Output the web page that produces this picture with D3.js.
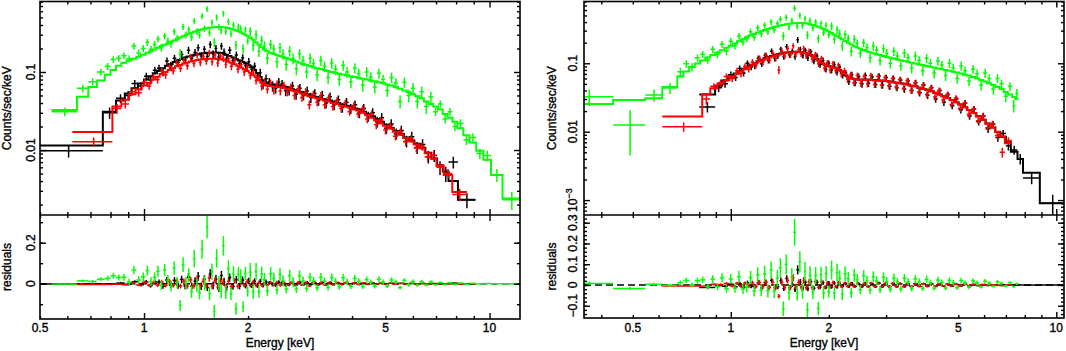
<!DOCTYPE html>
<html>
<head>
<meta charset="utf-8">
<script src="https://cdn.jsdelivr.net/npm/d3@7"></script>
<style>
    body { margin: 0; background: #fff; }
    svg text { font-family: "Liberation Sans", Arial, sans-serif; font-size: 12px; fill: #000; stroke: #000; stroke-width: 0.35px; }
</style>
</head>
<body>
<svg id="canvas"></svg>
<script>
/////////////////////////////////////////////////////////////////////
// Data (keV, counts/sec/keV)
// each dataset: bin edges, measured rate, 1-sigma error, folded model

// ---- left spectrum ----
var leftBlackEdges = [0.45, 0.76, 0.83, 0.88, 0.92, 0.96, 1.00, 1.03, 1.06, 1.09, 1.12, 1.15, 1.18, 1.21, 1.24, 1.27, 1.30, 1.33, 1.36, 1.39, 1.42, 1.45, 1.48, 1.51, 1.54, 1.57, 1.60, 1.63, 1.66, 1.69, 1.72, 1.75, 1.79, 1.83, 1.87, 1.91, 1.95, 1.99, 2.03, 2.07, 2.11, 2.15, 2.19, 2.23, 2.28, 2.33, 2.38, 2.43, 2.48, 2.54, 2.60, 2.66, 2.72, 2.79, 2.86, 2.93, 3.00, 3.08, 3.16, 3.24, 3.32, 3.41, 3.50, 3.60, 3.70, 3.80, 3.91, 4.02, 4.14, 4.26, 4.39, 4.52, 4.66, 4.80, 4.95, 5.11, 5.28, 5.46, 5.65, 5.85, 6.06, 6.28, 6.52, 6.78, 7.05, 7.33, 7.61, 8.10, 9.10];
var leftBlackRate = [0.0098, 0.030, 0.046, 0.050, 0.071, 0.066, 0.088, 0.079, 0.105, 0.112, 0.100, 0.138, 0.120, 0.150, 0.132, 0.168, 0.142, 0.190, 0.150, 0.178, 0.205, 0.160, 0.195, 0.158, 0.225, 0.170, 0.200, 0.155, 0.215, 0.180, 0.150, 0.190, 0.140, 0.165, 0.128, 0.152, 0.120, 0.135, 0.108, 0.118, 0.088, 0.098, 0.070, 0.082, 0.075, 0.066, 0.062, 0.074, 0.070, 0.058, 0.058, 0.066, 0.052, 0.062, 0.050, 0.057, 0.047, 0.053, 0.043, 0.050, 0.040, 0.048, 0.038, 0.044, 0.035, 0.041, 0.034, 0.038, 0.030, 0.034, 0.027, 0.030, 0.023, 0.026, 0.019, 0.0215, 0.0162, 0.0178, 0.0130, 0.0148, 0.0108, 0.0118, 0.0082, 0.0085, 0.0060, 0.0050, 0.0070, 0.0023];
var leftBlackErr = [0.0018, 0.005, 0.006, 0.007, 0.008, 0.008, 0.010, 0.010, 0.012, 0.012, 0.012, 0.015, 0.014, 0.016, 0.015, 0.018, 0.016, 0.020, 0.017, 0.019, 0.021, 0.018, 0.020, 0.018, 0.023, 0.019, 0.021, 0.018, 0.022, 0.020, 0.018, 0.020, 0.017, 0.018, 0.016, 0.017, 0.015, 0.016, 0.014, 0.014, 0.012, 0.012, 0.010, 0.011, 0.009, 0.010, 0.009, 0.010, 0.009, 0.009, 0.008, 0.009, 0.008, 0.008, 0.007, 0.008, 0.007, 0.007, 0.006, 0.007, 0.006, 0.0065, 0.0055, 0.006, 0.005, 0.0055, 0.005, 0.005, 0.0045, 0.0048, 0.004, 0.0042, 0.0036, 0.0038, 0.003, 0.0032, 0.0026, 0.0027, 0.0022, 0.0023, 0.0019, 0.0019, 0.0015, 0.0015, 0.0012, 0.0011, 0.0012, 0.0005];
var leftBlackModel = [0.0114, 0.031, 0.043, 0.053, 0.062, 0.071, 0.080, 0.088, 0.096, 0.104, 0.112, 0.120, 0.127, 0.134, 0.141, 0.147, 0.153, 0.158, 0.162, 0.166, 0.169, 0.172, 0.174, 0.176, 0.177, 0.178, 0.178, 0.177, 0.175, 0.171, 0.166, 0.160, 0.153, 0.146, 0.140, 0.134, 0.128, 0.122, 0.115, 0.106, 0.096, 0.086, 0.078, 0.073, 0.071, 0.069, 0.068, 0.067, 0.066, 0.064, 0.062, 0.060, 0.058, 0.056, 0.054, 0.052, 0.050, 0.048, 0.047, 0.045, 0.044, 0.043, 0.041, 0.040, 0.038, 0.037, 0.036, 0.034, 0.033, 0.031, 0.029, 0.027, 0.025, 0.023, 0.021, 0.0192, 0.0175, 0.0160, 0.0145, 0.0132, 0.0120, 0.0107, 0.0092, 0.0078, 0.0064, 0.0053, 0.0040, 0.0023];

var leftRedEdges = [0.62, 0.81, 0.86, 0.905, 0.945, 0.985, 1.02, 1.05, 1.08, 1.11, 1.14, 1.17, 1.20, 1.23, 1.26, 1.29, 1.32, 1.35, 1.38, 1.41, 1.44, 1.47, 1.50, 1.53, 1.56, 1.59, 1.62, 1.65, 1.68, 1.71, 1.74, 1.77, 1.81, 1.85, 1.89, 1.93, 1.97, 2.01, 2.05, 2.09, 2.13, 2.17, 2.21, 2.25, 2.30, 2.35, 2.40, 2.45, 2.51, 2.57, 2.63, 2.69, 2.76, 2.83, 2.90, 2.97, 3.05, 3.13, 3.21, 3.29, 3.38, 3.47, 3.57, 3.67, 3.77, 3.88, 3.99, 4.11, 4.23, 4.36, 4.49, 4.63, 4.77, 4.92, 5.08, 5.25, 5.43, 5.62, 5.82, 6.03, 6.25, 6.49, 6.75, 7.02, 7.37, 7.80, 8.60];
var leftRedRate = [0.0128, 0.034, 0.039, 0.056, 0.054, 0.074, 0.066, 0.086, 0.080, 0.102, 0.092, 0.118, 0.104, 0.130, 0.112, 0.140, 0.120, 0.155, 0.128, 0.165, 0.132, 0.158, 0.138, 0.175, 0.135, 0.165, 0.130, 0.160, 0.150, 0.125, 0.148, 0.118, 0.140, 0.108, 0.125, 0.100, 0.115, 0.090, 0.100, 0.078, 0.085, 0.066, 0.074, 0.060, 0.072, 0.058, 0.070, 0.057, 0.068, 0.055, 0.064, 0.050, 0.061, 0.047, 0.056, 0.038, 0.052, 0.041, 0.050, 0.038, 0.047, 0.036, 0.043, 0.034, 0.040, 0.031, 0.037, 0.029, 0.034, 0.025, 0.029, 0.021, 0.024, 0.018, 0.0205, 0.0150, 0.0172, 0.0128, 0.0140, 0.0106, 0.0112, 0.0082, 0.0086, 0.0060, 0.0050, 0.0027];
var leftRedErr = [0.0017, 0.005, 0.005, 0.006, 0.006, 0.008, 0.007, 0.009, 0.009, 0.011, 0.010, 0.012, 0.011, 0.013, 0.012, 0.014, 0.013, 0.015, 0.013, 0.016, 0.014, 0.016, 0.014, 0.017, 0.014, 0.016, 0.014, 0.016, 0.015, 0.013, 0.015, 0.013, 0.014, 0.012, 0.013, 0.011, 0.012, 0.010, 0.011, 0.009, 0.009, 0.008, 0.008, 0.007, 0.008, 0.007, 0.008, 0.007, 0.007, 0.006, 0.007, 0.006, 0.0065, 0.0055, 0.006, 0.005, 0.0055, 0.005, 0.0052, 0.0045, 0.005, 0.0042, 0.0045, 0.004, 0.0042, 0.0036, 0.0038, 0.0033, 0.0035, 0.003, 0.003, 0.0026, 0.0026, 0.0022, 0.0022, 0.0018, 0.0019, 0.0015, 0.0016, 0.0013, 0.0013, 0.001, 0.001, 0.0008, 0.0007, 0.0005];
var leftRedModel = [0.017, 0.036, 0.044, 0.052, 0.060, 0.067, 0.073, 0.080, 0.087, 0.094, 0.100, 0.106, 0.112, 0.118, 0.123, 0.128, 0.132, 0.136, 0.139, 0.142, 0.144, 0.146, 0.147, 0.148, 0.148, 0.148, 0.147, 0.146, 0.143, 0.140, 0.136, 0.131, 0.126, 0.120, 0.114, 0.108, 0.103, 0.098, 0.092, 0.086, 0.079, 0.073, 0.069, 0.067, 0.066, 0.065, 0.064, 0.064, 0.063, 0.061, 0.059, 0.057, 0.055, 0.053, 0.051, 0.049, 0.047, 0.046, 0.045, 0.043, 0.042, 0.040, 0.039, 0.037, 0.036, 0.035, 0.033, 0.032, 0.030, 0.028, 0.026, 0.024, 0.022, 0.0205, 0.0188, 0.0172, 0.0157, 0.0143, 0.0130, 0.0118, 0.0105, 0.0091, 0.0078, 0.0063, 0.0048, 0.0029];

var leftGreenEdges = [0.54, 0.64, 0.69, 0.73, 0.77, 0.80, 0.83, 0.86, 0.89, 0.92, 0.95, 0.98, 1.01, 1.035, 1.06, 1.085, 1.11, 1.135, 1.16, 1.185, 1.21, 1.235, 1.26, 1.285, 1.31, 1.335, 1.36, 1.385, 1.41, 1.435, 1.46, 1.485, 1.51, 1.535, 1.56, 1.585, 1.61, 1.635, 1.66, 1.685, 1.71, 1.74, 1.77, 1.80, 1.83, 1.86, 1.89, 1.92, 1.95, 1.98, 2.01, 2.05, 2.09, 2.13, 2.17, 2.21, 2.25, 2.30, 2.35, 2.40, 2.45, 2.50, 2.55, 2.61, 2.67, 2.73, 2.79, 2.85, 2.92, 2.99, 3.06, 3.13, 3.21, 3.29, 3.37, 3.45, 3.54, 3.63, 3.72, 3.82, 3.92, 4.02, 4.13, 4.24, 4.35, 4.47, 4.59, 4.72, 4.85, 4.99, 5.13, 5.28, 5.43, 5.59, 5.75, 5.92, 6.09, 6.27, 6.46, 6.66, 6.87, 7.09, 7.32, 7.56, 7.81, 8.07, 8.40, 8.75, 9.15, 9.60, 10.1, 10.9, 12.3];
var leftGreenRate = [0.031, 0.062, 0.075, 0.100, 0.118, 0.145, 0.150, 0.162, 0.148, 0.215, 0.175, 0.200, 0.240, 0.195, 0.225, 0.265, 0.205, 0.290, 0.250, 0.230, 0.330, 0.270, 0.170, 0.380, 0.300, 0.350, 0.280, 0.450, 0.330, 0.300, 0.520, 0.360, 0.640, 0.320, 0.430, 0.240, 0.500, 0.380, 0.340, 0.560, 0.330, 0.440, 0.310, 0.400, 0.220, 0.380, 0.360, 0.200, 0.350, 0.250, 0.330, 0.220, 0.300, 0.185, 0.255, 0.215, 0.150, 0.225, 0.195, 0.135, 0.205, 0.170, 0.125, 0.185, 0.150, 0.110, 0.170, 0.140, 0.100, 0.150, 0.128, 0.092, 0.140, 0.118, 0.085, 0.130, 0.108, 0.080, 0.122, 0.100, 0.075, 0.112, 0.095, 0.068, 0.100, 0.086, 0.064, 0.096, 0.080, 0.058, 0.085, 0.072, 0.042, 0.074, 0.050, 0.062, 0.042, 0.056, 0.036, 0.048, 0.031, 0.039, 0.025, 0.031, 0.020, 0.022, 0.0135, 0.0145, 0.0090, 0.0085, 0.0048, 0.0023];
var leftGreenErr = [0.004, 0.007, 0.008, 0.010, 0.012, 0.014, 0.015, 0.016, 0.016, 0.021, 0.019, 0.021, 0.024, 0.021, 0.024, 0.027, 0.023, 0.029, 0.026, 0.025, 0.032, 0.028, 0.027, 0.036, 0.031, 0.034, 0.030, 0.042, 0.033, 0.031, 0.046, 0.035, 0.055, 0.033, 0.040, 0.031, 0.045, 0.036, 0.033, 0.048, 0.033, 0.040, 0.031, 0.037, 0.029, 0.035, 0.033, 0.027, 0.032, 0.025, 0.045, 0.035, 0.042, 0.030, 0.037, 0.032, 0.025, 0.033, 0.030, 0.023, 0.031, 0.027, 0.021, 0.028, 0.024, 0.019, 0.026, 0.022, 0.017, 0.023, 0.020, 0.016, 0.021, 0.018, 0.015, 0.020, 0.017, 0.014, 0.018, 0.016, 0.013, 0.017, 0.015, 0.012, 0.015, 0.013, 0.011, 0.014, 0.012, 0.010, 0.013, 0.011, 0.008, 0.011, 0.009, 0.010, 0.008, 0.009, 0.007, 0.008, 0.0038, 0.0042, 0.0032, 0.0035, 0.0026, 0.0027, 0.0019, 0.0019, 0.0014, 0.0013, 0.0009, 0.0006];
var leftGreenModel = [0.0326, 0.048, 0.064, 0.078, 0.092, 0.106, 0.120, 0.131, 0.140, 0.148, 0.157, 0.166, 0.176, 0.185, 0.194, 0.204, 0.213, 0.223, 0.233, 0.243, 0.254, 0.265, 0.276, 0.287, 0.298, 0.309, 0.319, 0.328, 0.337, 0.345, 0.352, 0.358, 0.363, 0.368, 0.372, 0.375, 0.377, 0.378, 0.377, 0.375, 0.371, 0.366, 0.359, 0.351, 0.342, 0.333, 0.323, 0.312, 0.300, 0.288, 0.274, 0.258, 0.241, 0.224, 0.208, 0.195, 0.184, 0.176, 0.170, 0.165, 0.160, 0.156, 0.151, 0.146, 0.141, 0.136, 0.131, 0.127, 0.123, 0.119, 0.115, 0.112, 0.109, 0.106, 0.103, 0.100, 0.097, 0.095, 0.093, 0.091, 0.088, 0.086, 0.084, 0.082, 0.080, 0.078, 0.076, 0.074, 0.072, 0.069, 0.067, 0.064, 0.061, 0.058, 0.055, 0.052, 0.049, 0.046, 0.042, 0.039, 0.036, 0.033, 0.029, 0.026, 0.023, 0.019, 0.0155, 0.0125, 0.0098, 0.0075, 0.0048, 0.0024];

// ---- right spectrum ----
var rightBlackEdges = [0.80, 0.895, 0.94, 0.98, 1.02, 1.05, 1.08, 1.11, 1.14, 1.17, 1.20, 1.23, 1.26, 1.29, 1.32, 1.35, 1.38, 1.41, 1.44, 1.47, 1.50, 1.53, 1.56, 1.59, 1.62, 1.65, 1.68, 1.71, 1.74, 1.78, 1.82, 1.86, 1.90, 1.94, 1.98, 2.02, 2.06, 2.10, 2.14, 2.18, 2.23, 2.28, 2.33, 2.38, 2.44, 2.50, 2.56, 2.62, 2.68, 2.75, 2.82, 2.89, 2.96, 3.04, 3.12, 3.20, 3.28, 3.37, 3.46, 3.55, 3.65, 3.75, 3.86, 3.97, 4.08, 4.20, 4.32, 4.45, 4.58, 4.72, 4.86, 5.01, 5.17, 5.33, 5.50, 5.68, 5.87, 6.07, 6.28, 6.50, 6.73, 7.00, 7.25, 7.60, 7.90, 8.90, 10.6];
var rightBlackRate = [0.023, 0.044, 0.050, 0.068, 0.062, 0.084, 0.072, 0.100, 0.088, 0.092, 0.118, 0.098, 0.130, 0.110, 0.150, 0.118, 0.128, 0.160, 0.125, 0.175, 0.132, 0.150, 0.125, 0.220, 0.160, 0.130, 0.155, 0.120, 0.148, 0.108, 0.128, 0.095, 0.110, 0.082, 0.100, 0.080, 0.096, 0.074, 0.088, 0.068, 0.072, 0.054, 0.068, 0.052, 0.064, 0.050, 0.066, 0.051, 0.063, 0.049, 0.065, 0.048, 0.062, 0.046, 0.060, 0.044, 0.057, 0.042, 0.055, 0.040, 0.052, 0.037, 0.048, 0.034, 0.044, 0.030, 0.040, 0.027, 0.035, 0.024, 0.030, 0.021, 0.026, 0.017, 0.0215, 0.0140, 0.0170, 0.0110, 0.0128, 0.0082, 0.0094, 0.0062, 0.0054, 0.0040, 0.0021, 0.0009];
var rightBlackErr = [0.004, 0.006, 0.006, 0.008, 0.007, 0.009, 0.008, 0.010, 0.009, 0.010, 0.012, 0.010, 0.013, 0.011, 0.014, 0.012, 0.013, 0.015, 0.012, 0.016, 0.013, 0.014, 0.012, 0.022, 0.015, 0.013, 0.014, 0.012, 0.014, 0.011, 0.012, 0.010, 0.011, 0.009, 0.010, 0.009, 0.010, 0.008, 0.009, 0.008, 0.008, 0.006, 0.007, 0.006, 0.007, 0.006, 0.007, 0.006, 0.0065, 0.0055, 0.0065, 0.0055, 0.0062, 0.0052, 0.006, 0.005, 0.0057, 0.0048, 0.0055, 0.0045, 0.0052, 0.0042, 0.0048, 0.0039, 0.0044, 0.0035, 0.004, 0.0032, 0.0035, 0.0028, 0.003, 0.0025, 0.0027, 0.0021, 0.0023, 0.0017, 0.0019, 0.0014, 0.0015, 0.0011, 0.0012, 0.0009, 0.0008, 0.0007, 0.0004, 0.0003];
var rightBlackModel = [0.035, 0.047, 0.056, 0.064, 0.071, 0.077, 0.083, 0.089, 0.095, 0.101, 0.107, 0.112, 0.118, 0.123, 0.128, 0.132, 0.136, 0.139, 0.142, 0.144, 0.145, 0.146, 0.147, 0.147, 0.146, 0.145, 0.142, 0.138, 0.132, 0.124, 0.115, 0.106, 0.099, 0.094, 0.091, 0.089, 0.087, 0.084, 0.080, 0.073, 0.066, 0.062, 0.060, 0.059, 0.058, 0.058, 0.058, 0.058, 0.057, 0.057, 0.056, 0.056, 0.055, 0.054, 0.053, 0.052, 0.051, 0.050, 0.049, 0.047, 0.046, 0.044, 0.042, 0.041, 0.039, 0.037, 0.035, 0.033, 0.031, 0.029, 0.027, 0.025, 0.0228, 0.0208, 0.0188, 0.0168, 0.0150, 0.0132, 0.0115, 0.0099, 0.0084, 0.0070, 0.0051, 0.0040, 0.0025, 0.0009];

var rightRedEdges = [0.616, 0.817, 0.865, 0.91, 0.95, 0.99, 1.03, 1.06, 1.09, 1.12, 1.15, 1.18, 1.21, 1.24, 1.27, 1.30, 1.33, 1.36, 1.39, 1.42, 1.45, 1.48, 1.51, 1.54, 1.57, 1.60, 1.63, 1.66, 1.69, 1.72, 1.76, 1.80, 1.84, 1.88, 1.92, 1.96, 2.00, 2.04, 2.08, 2.12, 2.16, 2.21, 2.26, 2.31, 2.36, 2.42, 2.48, 2.54, 2.60, 2.66, 2.73, 2.80, 2.87, 2.94, 3.02, 3.10, 3.18, 3.26, 3.35, 3.44, 3.53, 3.63, 3.73, 3.84, 3.95, 4.06, 4.18, 4.30, 4.43, 4.56, 4.70, 4.84, 4.99, 5.15, 5.31, 5.48, 5.66, 5.85, 6.05, 6.26, 6.48, 6.70, 6.95, 7.30];
var rightRedRate = [0.0118, 0.030, 0.046, 0.052, 0.064, 0.060, 0.078, 0.070, 0.090, 0.082, 0.104, 0.094, 0.118, 0.104, 0.130, 0.110, 0.140, 0.118, 0.080, 0.150, 0.128, 0.165, 0.132, 0.180, 0.138, 0.158, 0.135, 0.165, 0.128, 0.150, 0.115, 0.135, 0.098, 0.118, 0.085, 0.102, 0.080, 0.098, 0.078, 0.094, 0.070, 0.078, 0.058, 0.068, 0.052, 0.066, 0.051, 0.064, 0.050, 0.066, 0.049, 0.064, 0.048, 0.062, 0.047, 0.060, 0.045, 0.058, 0.043, 0.056, 0.040, 0.052, 0.038, 0.048, 0.035, 0.044, 0.032, 0.040, 0.029, 0.035, 0.025, 0.031, 0.022, 0.0262, 0.0180, 0.0215, 0.0145, 0.0170, 0.0114, 0.0130, 0.0088, 0.0050, 0.0074];
var rightRedErr = [0.0018, 0.005, 0.005, 0.006, 0.007, 0.007, 0.008, 0.008, 0.009, 0.009, 0.011, 0.010, 0.012, 0.011, 0.013, 0.011, 0.014, 0.012, 0.011, 0.015, 0.013, 0.016, 0.013, 0.017, 0.014, 0.015, 0.013, 0.016, 0.013, 0.014, 0.012, 0.013, 0.010, 0.011, 0.009, 0.010, 0.009, 0.010, 0.008, 0.009, 0.008, 0.008, 0.0065, 0.007, 0.006, 0.007, 0.006, 0.0065, 0.0058, 0.0065, 0.0056, 0.0063, 0.0055, 0.006, 0.0053, 0.0058, 0.005, 0.0055, 0.0048, 0.0053, 0.0045, 0.005, 0.0042, 0.0046, 0.0039, 0.0042, 0.0035, 0.0038, 0.0032, 0.0034, 0.0028, 0.003, 0.0025, 0.0026, 0.002, 0.0022, 0.0016, 0.0018, 0.0013, 0.0014, 0.001, 0.0008, 0.0009];
var rightRedModel = [0.0166, 0.0352, 0.043, 0.050, 0.057, 0.064, 0.070, 0.076, 0.082, 0.088, 0.094, 0.100, 0.106, 0.111, 0.116, 0.121, 0.126, 0.130, 0.134, 0.137, 0.140, 0.142, 0.144, 0.145, 0.146, 0.146, 0.145, 0.143, 0.140, 0.135, 0.128, 0.119, 0.110, 0.102, 0.096, 0.092, 0.089, 0.087, 0.085, 0.082, 0.077, 0.070, 0.064, 0.061, 0.059, 0.058, 0.057, 0.057, 0.057, 0.057, 0.056, 0.056, 0.055, 0.055, 0.054, 0.053, 0.052, 0.051, 0.050, 0.049, 0.047, 0.046, 0.044, 0.042, 0.041, 0.039, 0.037, 0.035, 0.033, 0.031, 0.029, 0.027, 0.025, 0.0228, 0.0207, 0.0187, 0.0167, 0.0149, 0.0131, 0.0115, 0.0100, 0.0085, 0.0068];

var rightGreenEdges = [0.30, 0.435, 0.546, 0.616, 0.685, 0.715, 0.745, 0.775, 0.805, 0.835, 0.865, 0.895, 0.925, 0.955, 0.985, 1.015, 1.045, 1.075, 1.105, 1.135, 1.165, 1.195, 1.225, 1.255, 1.285, 1.315, 1.345, 1.375, 1.405, 1.435, 1.465, 1.495, 1.525, 1.555, 1.585, 1.615, 1.645, 1.675, 1.705, 1.735, 1.77, 1.805, 1.84, 1.875, 1.91, 1.945, 1.98, 2.02, 2.06, 2.10, 2.14, 2.18, 2.22, 2.27, 2.32, 2.37, 2.42, 2.47, 2.53, 2.59, 2.65, 2.71, 2.77, 2.84, 2.91, 2.98, 3.05, 3.13, 3.21, 3.29, 3.37, 3.46, 3.55, 3.64, 3.74, 3.84, 3.94, 4.05, 4.16, 4.27, 4.39, 4.51, 4.63, 4.76, 4.89, 5.03, 5.17, 5.32, 5.47, 5.63, 5.79, 5.96, 6.13, 6.31, 6.50, 6.69, 6.89, 7.10, 7.32, 7.48, 7.65];
var rightGreenRate = [0.0325, 0.0125, 0.0343, 0.0435, 0.075, 0.098, 0.088, 0.120, 0.135, 0.112, 0.160, 0.135, 0.190, 0.150, 0.210, 0.180, 0.250, 0.205, 0.230, 0.290, 0.240, 0.330, 0.270, 0.360, 0.290, 0.400, 0.310, 0.380, 0.440, 0.250, 0.470, 0.340, 0.420, 0.640, 0.350, 0.500, 0.360, 0.450, 0.260, 0.420, 0.330, 0.400, 0.230, 0.380, 0.280, 0.360, 0.260, 0.350, 0.225, 0.310, 0.270, 0.180, 0.265, 0.230, 0.150, 0.225, 0.195, 0.140, 0.200, 0.170, 0.120, 0.180, 0.155, 0.110, 0.165, 0.140, 0.100, 0.150, 0.128, 0.092, 0.140, 0.120, 0.085, 0.128, 0.110, 0.078, 0.118, 0.100, 0.072, 0.108, 0.094, 0.066, 0.100, 0.086, 0.060, 0.092, 0.078, 0.055, 0.082, 0.070, 0.048, 0.072, 0.060, 0.042, 0.060, 0.050, 0.033, 0.046, 0.024, 0.036];
var rightGreenErr = [0.009, 0.008, 0.007, 0.008, 0.011, 0.013, 0.012, 0.015, 0.016, 0.014, 0.019, 0.017, 0.022, 0.019, 0.024, 0.022, 0.028, 0.024, 0.026, 0.032, 0.027, 0.036, 0.030, 0.039, 0.032, 0.042, 0.034, 0.040, 0.046, 0.035, 0.048, 0.036, 0.044, 0.065, 0.037, 0.051, 0.038, 0.046, 0.035, 0.043, 0.035, 0.041, 0.032, 0.039, 0.030, 0.037, 0.028, 0.045, 0.032, 0.042, 0.038, 0.028, 0.036, 0.032, 0.024, 0.031, 0.028, 0.021, 0.028, 0.025, 0.019, 0.026, 0.023, 0.017, 0.024, 0.021, 0.016, 0.022, 0.019, 0.015, 0.021, 0.018, 0.014, 0.019, 0.017, 0.013, 0.018, 0.015, 0.012, 0.016, 0.014, 0.011, 0.015, 0.013, 0.010, 0.014, 0.012, 0.009, 0.012, 0.011, 0.008, 0.011, 0.009, 0.007, 0.009, 0.008, 0.006, 0.007, 0.005, 0.006];
var rightGreenModel = [0.0254, 0.029, 0.0308, 0.045, 0.064, 0.076, 0.088, 0.099, 0.110, 0.121, 0.132, 0.143, 0.155, 0.168, 0.181, 0.195, 0.210, 0.225, 0.240, 0.254, 0.268, 0.281, 0.294, 0.306, 0.318, 0.329, 0.339, 0.348, 0.357, 0.364, 0.371, 0.377, 0.382, 0.386, 0.388, 0.389, 0.388, 0.385, 0.380, 0.373, 0.364, 0.354, 0.343, 0.331, 0.318, 0.305, 0.292, 0.278, 0.264, 0.250, 0.237, 0.224, 0.211, 0.199, 0.188, 0.178, 0.170, 0.163, 0.156, 0.150, 0.145, 0.140, 0.136, 0.132, 0.128, 0.124, 0.120, 0.117, 0.114, 0.111, 0.108, 0.105, 0.102, 0.099, 0.096, 0.094, 0.091, 0.089, 0.087, 0.084, 0.082, 0.080, 0.078, 0.075, 0.073, 0.071, 0.068, 0.066, 0.063, 0.060, 0.057, 0.054, 0.051, 0.048, 0.045, 0.042, 0.038, 0.035, 0.032, 0.030];

// tick labels
var energyLabels = [0.5, 1, 2, 5, 10];
var leftRateLabels = [0.01, 0.1];
var rightRateLabels = [0.001, 0.01, 0.1];
var leftResidLabels = [0, 0.2];
var rightResidLabels = [-0.1, 0, 0.1, 0.2, 0.3];


/////////////////////////////////////////////////////////////////////
// helpers

function makeBins(edges, rate, err, model) {
    var n = Math.min(edges.length - 1, rate.length, err.length, model.length);
    var bins = [];
    for (var i = 0; i < n; i++) {
        bins.push({ lo: edges[i], hi: edges[i + 1], v: rate[i], e: err[i], m: model[i] });
    }
    return bins;
}

var svgWidth = 1066, svgHeight = 351;
var svg = d3.select("#canvas").attr("width", svgWidth).attr("height", svgHeight);

// geometry of the two plots
var panels = [
    {
        id: "L", x0: 40, x1: 520, top: 1.5, mid: 215, bot: 319,
        xDomain: [0.5, 12.25], yDomain: [0.00147, 0.80], rDomain: [-0.172, 0.335],
        labelX: 35, titleX: 11,
        rateLabels: leftRateLabels, residLabels: leftResidLabels, residMajorStep: 0.2, residMinorStep: 0.1,
        sets: [
            { color: "#000000", bins: makeBins(leftBlackEdges, leftBlackRate, leftBlackErr, leftBlackModel) },
            { color: "#ff0000", bins: makeBins(leftRedEdges, leftRedRate, leftRedErr, leftRedModel) },
            { color: "#00ff00", bins: makeBins(leftGreenEdges, leftGreenRate, leftGreenErr, leftGreenModel) }
        ]
    },
    {
        id: "R", x0: 584, x1: 1064, top: 1.5, mid: 215, bot: 318,
        xDomain: [0.354, 10.56], yDomain: [0.000605, 0.80], rDomain: [-0.159, 0.337],
        labelX: 577, titleX: 556,
        rateLabels: rightRateLabels, residLabels: rightResidLabels, residMajorStep: 0.1, residMinorStep: 0.02,
        sets: [
            { color: "#000000", bins: makeBins(rightBlackEdges, rightBlackRate, rightBlackErr, rightBlackModel) },
            { color: "#ff0000", bins: makeBins(rightRedEdges, rightRedRate, rightRedErr, rightRedModel) },
            { color: "#00ff00", bins: makeBins(rightGreenEdges, rightGreenRate, rightGreenErr, rightGreenModel) }
        ]
    }
];

function isDecade(v) {
    var l = Math.log10(v);
    return Math.abs(l - Math.round(l)) < 1e-6;
}

function inDomain(scale) {
    var d = scale.domain();
    var lo = Math.min(d[0], d[1]), hi = Math.max(d[0], d[1]);
    return function (v) { return v >= lo - 1e-9 && v <= hi + 1e-9; };
}

function tickAxis(g, axisFn, scale, values, len, transform) {
    g.append("g")
        .attr("transform", transform)
        .call(axisFn(scale).tickValues(values.filter(inDomain(scale))).tickSizeInner(-len).tickSizeOuter(0).tickFormat(""))
        .call(a => a.select(".domain").remove())
        .call(a => a.selectAll("line").attr("stroke", "#000").attr("stroke-width", 1.4));
}

function drawPanel(p) {
    var x = d3.scaleLog().domain(p.xDomain).range([p.x0, p.x1]);
    var y = d3.scaleLog().domain(p.yDomain).range([p.mid, p.top]);
    var r = d3.scaleLinear().domain(p.rDomain).range([p.bot, p.mid]);

    var g = svg.append("g").attr("id", "panel" + p.id);

    // clip regions
    var defs = g.append("defs");
    defs.append("clipPath").attr("id", "clipU" + p.id).append("rect")
        .attr("x", p.x0).attr("y", p.top).attr("width", p.x1 - p.x0).attr("height", p.mid - p.top);
    defs.append("clipPath").attr("id", "clipL" + p.id).append("rect")
        .attr("x", p.x0).attr("y", p.mid).attr("width", p.x1 - p.x0).attr("height", p.bot - p.mid);

    var upper = g.append("g").attr("clip-path", "url(#clipU" + p.id + ")");
    var lower = g.append("g").attr("clip-path", "url(#clipL" + p.id + ")");

    var yMin = p.yDomain[0] * 0.5;

    // zero line of residuals
    lower.append("line")
        .attr("x1", p.x0).attr("x2", p.x1)
        .attr("y1", r(0)).attr("y2", r(0))
        .attr("stroke", "#000").attr("stroke-width", 1.6)
        .attr("stroke-dasharray", "7,4");

    var step = d3.line().x(d => x(d[0])).y(d => y(d[1]));

    p.sets.forEach(function (s) {
        // folded model as a histogram
        var pts = [];
        s.bins.forEach(b => { pts.push([b.lo, b.m]); pts.push([b.hi, b.m]); });
        upper.append("path")
            .datum(pts)
            .attr("d", step)
            .attr("fill", "none")
            .attr("stroke", s.color)
            .attr("stroke-width", 2);

        // data crosses
        var dg = upper.append("g").attr("stroke", s.color).attr("stroke-width", 1.5);
        dg.selectAll("line.h").data(s.bins).enter().append("line")
            .attr("x1", d => x(d.lo)).attr("x2", d => x(d.hi))
            .attr("y1", d => y(d.v)).attr("y2", d => y(d.v));
        dg.selectAll("line.v").data(s.bins).enter().append("line")
            .attr("x1", d => x((d.lo + d.hi) / 2)).attr("x2", d => x((d.lo + d.hi) / 2))
            .attr("y1", d => y(Math.max(d.v - d.e, yMin))).attr("y2", d => y(d.v + d.e));

        // residuals = data - model
        var rg = lower.append("g").attr("stroke", s.color).attr("stroke-width", 1.5);
        rg.selectAll("line.h").data(s.bins).enter().append("line")
            .attr("x1", d => x(d.lo)).attr("x2", d => x(d.hi))
            .attr("y1", d => r(d.v - d.m)).attr("y2", d => r(d.v - d.m));
        rg.selectAll("line.v").data(s.bins).enter().append("line")
            .attr("x1", d => x((d.lo + d.hi) / 2)).attr("x2", d => x((d.lo + d.hi) / 2))
            .attr("y1", d => r(d.v - d.m - d.e)).attr("y2", d => r(d.v - d.m + d.e));
    });

    // frame
    g.append("rect").attr("x", p.x0).attr("y", p.top).attr("width", p.x1 - p.x0).attr("height", p.bot - p.top)
        .attr("fill", "none").attr("stroke", "#000").attr("stroke-width", 1.6);
    g.append("line").attr("x1", p.x0).attr("x2", p.x1).attr("y1", p.mid).attr("y2", p.mid)
        .attr("stroke", "#000").attr("stroke-width", 1.6);

    // energy ticks on every horizontal edge
    var xt = x.ticks();
    var xMaj = xt.filter(isDecade), xMin = xt.filter(v => !isDecade(v));
    [[d3.axisTop, p.top], [d3.axisBottom, p.mid], [d3.axisTop, p.mid], [d3.axisBottom, p.bot]].forEach(function (a) {
        tickAxis(g, a[0], x, xMaj, 6, "translate(0," + a[1] + ")");
        tickAxis(g, a[0], x, xMin, 3, "translate(0," + a[1] + ")");
    });

    // rate ticks (log)
    var yt = y.ticks();
    var yMaj = yt.filter(isDecade), yMinr = yt.filter(v => !isDecade(v));
    [[d3.axisLeft, p.x0], [d3.axisRight, p.x1]].forEach(function (a) {
        tickAxis(g, a[0], y, yMaj, 6, "translate(" + a[1] + ",0)");
        tickAxis(g, a[0], y, yMinr, 3, "translate(" + a[1] + ",0)");
    });

    // residual ticks
    var rMaj = d3.range(-0.4, 0.41, p.residMajorStep).map(v => +v.toFixed(3));
    var rMin = d3.range(-0.4, 0.41, p.residMinorStep).map(v => +v.toFixed(3));
    [[d3.axisLeft, p.x0], [d3.axisRight, p.x1]].forEach(function (a) {
        tickAxis(g, a[0], r, rMaj, 6, "translate(" + a[1] + ",0)");
        tickAxis(g, a[0], r, rMin, 3, "translate(" + a[1] + ",0)");
    });

    // energy labels
    g.selectAll("text.xl").data(energyLabels.filter(inDomain(x))).enter().append("text")
        .attr("x", d => x(d)).attr("y", 332)
        .attr("text-anchor", "middle")
        .text(d => d3.format("")(d));

    g.append("text")
        .attr("x", (p.x0 + p.x1) / 2).attr("y", 347)
        .attr("text-anchor", "middle")
        .text("Energy  [keV]");

    // rate labels, rotated
    p.rateLabels.forEach(function (v) {
        var t = g.append("text")
            .attr("transform", "translate(" + p.labelX + "," + y(v) + ") rotate(-90)")
            .attr("text-anchor", "middle");
        if (v < 0.005) {
            t.append("tspan").text("10");
            t.append("tspan").attr("dy", -5).attr("font-size", "9px").text("\u22123");
        } else {
            t.text(d3.format("")(v));
        }
    });

    p.residLabels.forEach(function (v) {
        g.append("text")
            .attr("transform", "translate(" + p.labelX + "," + r(v) + ") rotate(-90)")
            .attr("text-anchor", "middle")
            .text(v < 0 ? "\u2212" + d3.format("")(-v) : d3.format("")(v));
    });

    g.append("text")
        .attr("transform", "translate(" + p.titleX + "," + ((p.top + p.mid) / 2) + ") rotate(-90)")
        .attr("text-anchor", "middle")
        .text("Counts/sec/keV");

    g.append("text")
        .attr("transform", "translate(" + p.titleX + "," + ((p.mid + p.bot) / 2) + ") rotate(-90)")
        .attr("text-anchor", "middle")
        .text("residuals");
}

panels.forEach(drawPanel);
</script>
</body>
</html>
